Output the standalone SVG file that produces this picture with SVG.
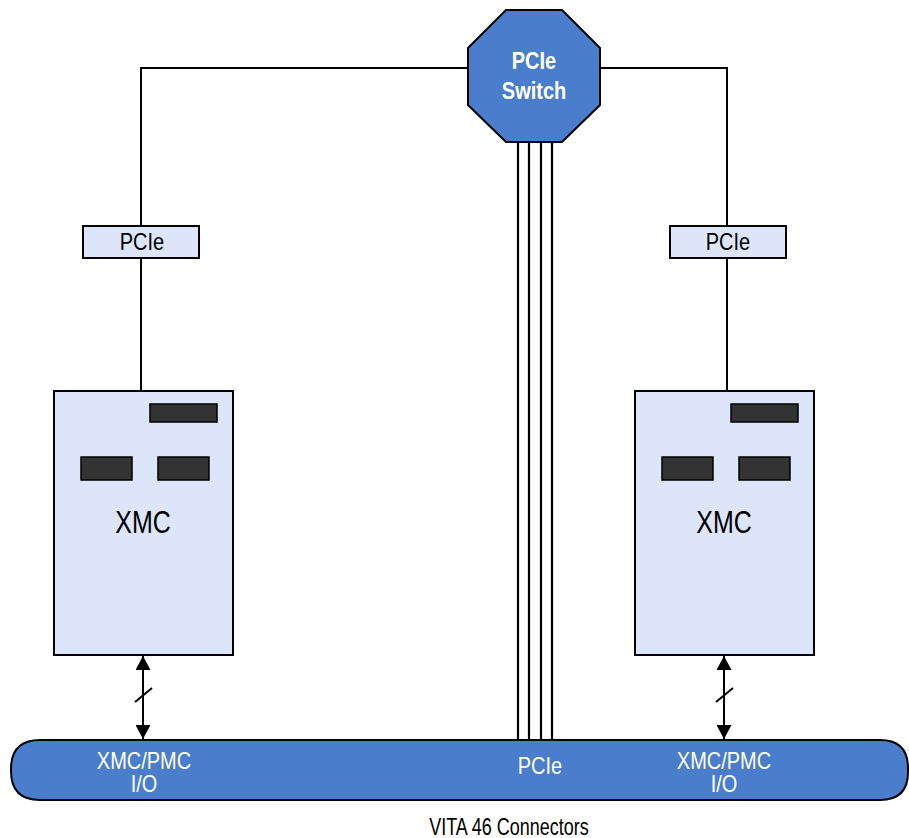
<svg xmlns="http://www.w3.org/2000/svg" width="909" height="838" viewBox="0 0 909 838">
  <style>
    .wire { fill: none; stroke: #000; stroke-width: 2; }
    .lane { fill: none; stroke: #000; stroke-width: 2.2; }
    .blue { fill: #4a7dcb; stroke: #000; stroke-width: 2; }
    .pale { fill: #dde5fb; stroke: #000; stroke-width: 2; }
    .chip { fill: #333; stroke: #000; stroke-width: 1.5; }
    .t { font-family: "Liberation Sans", Arial, sans-serif; text-anchor: middle; }
    .w { fill: #fff; }
  </style>
  <defs>
    <marker id="ah" viewBox="0 0 14 15" refX="14" refY="7.5" markerWidth="14" markerHeight="15" markerUnits="userSpaceOnUse" orient="auto-start-reverse">
      <path d="M0,0 L14,7.5 L0,15 z" fill="#000"/>
    </marker>
  </defs>

  <!-- connectors -->
  <g id="connectors">
    <polyline class="wire" points="468,68 141,68 141,226"/>
    <line class="wire" x1="141" y1="258" x2="141" y2="391"/>
    <polyline class="wire" points="600,68 727,68 727,226"/>
    <line class="wire" x1="727" y1="258" x2="727" y2="391"/>
    <line class="lane" x1="518" y1="142" x2="518" y2="740"/>
    <line class="lane" x1="529" y1="142" x2="529" y2="740"/>
    <line class="lane" x1="541" y1="142" x2="541" y2="740"/>
    <line class="lane" x1="552" y1="142" x2="552" y2="740"/>
    <!-- XMC I/O links -->
    <line class="wire" x1="143" y1="656" x2="143" y2="739" stroke-width="2.5" marker-start="url(#ah)" marker-end="url(#ah)"/>
    <line class="wire" x1="135" y1="702" x2="152" y2="688" stroke-width="1.5"/>
    <line class="wire" x1="724" y1="656" x2="724" y2="739" stroke-width="2.5" marker-start="url(#ah)" marker-end="url(#ah)"/>
    <line class="wire" x1="716" y1="702" x2="733" y2="688" stroke-width="1.5"/>
  </g>

  <!-- backplane connector bar -->
  <g id="vita46">
    <path class="blue" d="M40,740 H880 Q908,740 908,768 V772 Q908,800 880,800 H40 Q11,800 11,771 V769 Q11,740 40,740 Z"/>
    <text class="t w" transform="translate(144,768.5) scale(1,1.17)" font-size="20">XMC/PMC</text>
    <text class="t w" transform="translate(144,791.5) scale(1,1.17)" font-size="20">I/O</text>
    <text class="t w" transform="translate(540,774) scale(1,1.17)" font-size="20">PCIe</text>
    <text class="t w" transform="translate(724,769) scale(1,1.17)" font-size="20">XMC/PMC</text>
    <text class="t w" transform="translate(724,791.5) scale(1,1.17)" font-size="20">I/O</text>
  </g>
  <text class="t" transform="translate(509,835) scale(1,1.3)" font-size="18">VITA 46 Connectors</text>

  <!-- switch -->
  <g id="switch">
    <polygon class="blue" points="506,10 562,10 600,48 600,105 562,142 506,142 468,105 468,48"/>
    <text class="t w" transform="translate(534,68.5) scale(1,1.17)" font-size="20" font-weight="bold">PCIe</text>
    <text class="t w" transform="translate(534,99) scale(1,1.17)" font-size="20" font-weight="bold">Switch</text>
  </g>

  <!-- PCIe interface blocks -->
  <g id="pcie-left">
    <rect class="pale" x="83" y="226" width="116" height="32"/>
    <text class="t" transform="translate(142,249.5) scale(1,1.2)" font-size="20">PCIe</text>
  </g>
  <g id="pcie-right">
    <rect class="pale" x="670" y="226" width="116" height="32"/>
    <text class="t" transform="translate(728,249.5) scale(1,1.2)" font-size="20">PCIe</text>
  </g>

  <!-- XMC modules -->
  <g id="xmc-left">
    <rect class="pale" x="54" y="391" width="179" height="264"/>
    <rect class="chip" x="150" y="404" width="67" height="18"/>
    <rect class="chip" x="81" y="457" width="51" height="23"/>
    <rect class="chip" x="158" y="457" width="51" height="23"/>
    <text class="t" transform="translate(143,533) scale(1,1.22)" font-size="25">XMC</text>
  </g>
  <g id="xmc-right">
    <rect class="pale" x="635" y="391" width="179" height="264"/>
    <rect class="chip" x="731" y="404" width="67" height="18"/>
    <rect class="chip" x="662" y="457" width="51" height="23"/>
    <rect class="chip" x="739" y="457" width="51" height="23"/>
    <text class="t" transform="translate(724,533) scale(1,1.22)" font-size="25">XMC</text>
  </g>
</svg>
